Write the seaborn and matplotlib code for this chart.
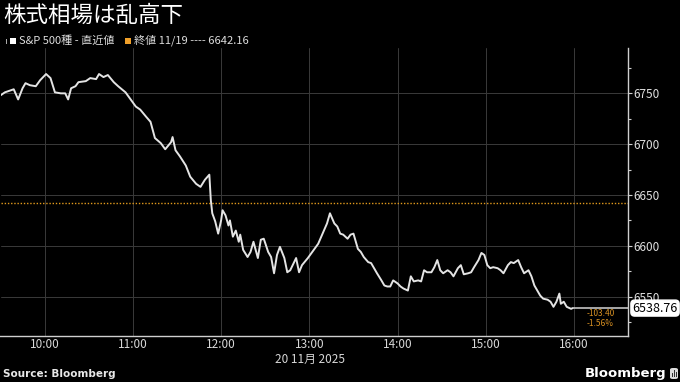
import matplotlib
matplotlib.use("Agg")
import matplotlib.pyplot as plt
import matplotlib.transforms as mtransforms
from matplotlib.patches import Rectangle, FancyBboxPatch
from matplotlib.ticker import MultipleLocator
import seaborn as sns
import pandas as pd

# ---------------- data ----------------
title = "株式相場は乱高下"
series_label = "S&P 500種 - 直近値"
prev_close_label = "終値 11/19 ---- 6642.16"
prev_close = 6642.16
last_value = 6538.76
change_abs = "-103.40"
change_pct = "-1.56%"
date_label = "20 11月 2025"
source_label = "Source: Bloomberg"
brand_label = "Bloomberg"
trade_date = "2025-11-20"
y_ticks = [6550, 6600, 6650, 6700, 6750]
x_tick_times = ["10:00", "11:00", "12:00", "13:00", "14:00", "15:00", "16:00"]
x_minor_times = ["09:30", "10:30", "11:30", "12:30", "13:30", "14:30", "15:30", "16:30"]

times = [
    "09:30", "09:33", "09:39", "09:42", "09:45", "09:47", "09:50", "09:54", "09:57",
    "10:01", "10:04", "10:07", "10:11", "10:14", "10:16", "10:18", "10:21", "10:23",
    "10:28", "10:31", "10:35", "10:37", "10:40", "10:43", "10:47", "10:50", "10:55",
    "10:58", "11:02", "11:05", "11:09", "11:12", "11:15", "11:19", "11:22", "11:26",
    "11:27", "11:29", "11:32", "11:36", "11:39", "11:43", "11:46", "11:49", "11:52",
    "11:53", "11:54", "11:56", "11:58", "12:00", "12:01", "12:03", "12:05", "12:06",
    "12:08", "12:10", "12:12", "12:13", "12:15", "12:18", "12:20", "12:22", "12:25",
    "12:27", "12:29", "12:32", "12:34", "12:36", "12:38", "12:40", "12:43", "12:45",
    "12:47", "12:51", "12:53", "12:55", "12:59", "13:02", "13:06", "13:09", "13:12",
    "13:14", "13:17", "13:19", "13:21", "13:23", "13:26", "13:28", "13:30", "13:33",
    "13:35", "13:37", "13:40", "13:42", "13:44", "13:46", "13:49", "13:51", "13:53",
    "13:55", "13:57", "14:00", "14:02", "14:04", "14:07", "14:09", "14:11", "14:14",
    "14:16", "14:18", "14:20", "14:23", "14:25", "14:27", "14:29", "14:31", "14:34",
    "14:36", "14:38", "14:41", "14:43", "14:45", "14:48", "14:50", "14:52", "14:55",
    "14:57", "14:59", "15:01", "15:03", "15:05", "15:08", "15:10", "15:12", "15:15",
    "15:17", "15:19", "15:22", "15:24", "15:26", "15:29", "15:31", "15:33", "15:35",
    "15:37", "15:39", "15:42", "15:44", "15:46", "15:48", "15:50", "15:51", "15:53",
    "15:55", "15:58", "15:59",
]
prices = [
    6748, 6751, 6754, 6744, 6755, 6760, 6758, 6757, 6763,
    6769, 6765, 6751, 6750, 6750, 6744, 6755, 6757, 6761,
    6762, 6765, 6764, 6769, 6766, 6768, 6761, 6757, 6751,
    6745, 6737, 6734, 6727, 6722, 6706, 6701, 6695, 6702,
    6707, 6694, 6688, 6679, 6668, 6661, 6658, 6665, 6670,
    6645, 6632, 6624, 6612, 6625, 6635, 6630, 6620, 6625,
    6609, 6615, 6604, 6611, 6596, 6589, 6594, 6604, 6588,
    6606, 6607, 6594, 6589, 6573, 6591, 6599, 6588, 6574,
    6576, 6588, 6574, 6581, 6588, 6594, 6602, 6612, 6622,
    6632, 6622, 6619, 6612, 6611, 6607, 6611, 6612, 6597,
    6594, 6589, 6584, 6583, 6578, 6573, 6566, 6561, 6560,
    6560, 6566, 6563, 6560, 6558, 6556, 6570, 6565, 6566,
    6565, 6576, 6574, 6574, 6579, 6586, 6576, 6573, 6576,
    6574, 6570, 6578, 6581, 6572, 6573, 6574, 6579, 6586,
    6593, 6591, 6581, 6578, 6579, 6578, 6576, 6573, 6581,
    6584, 6583, 6586, 6579, 6573, 6576, 6570, 6561, 6556,
    6551, 6548, 6547, 6545, 6540, 6545, 6553, 6543, 6545,
    6540, 6538, 6538.76,
]

# ---------------- style ----------------
sns.set_theme(style="dark", rc={
    "axes.facecolor": "black", "figure.facecolor": "black",
    "axes.edgecolor": "#cfcfcf", "text.color": "#e0e0e0",
    "xtick.color": "#cfcfcf", "ytick.color": "#cfcfcf",
})
plt.rcParams["font.family"] = ["Noto Sans CJK JP", "DejaVu Sans"]

W, H = 680, 382
fig = plt.figure(figsize=(W / 100, H / 100), dpi=100, facecolor="black")
ax = fig.add_axes([0.5 / W, 1 - 336 / H, 627.5 / W, 288 / H])
ax.set_facecolor("black")

def ts(t):
    return pd.Timestamp(f"{trade_date} {t}")

df = pd.DataFrame({"time": [ts(t) for t in times], "price": prices})

x_left = ts("09:30")
x_right = ts("16:36:40")

ax.axhline(prev_close, color="#e29a1c", lw=1.0, ls=(0, (1, 1.3)), zorder=2)
sns.lineplot(data=df, x="time", y="price", ax=ax, color="#e4e4e4", lw=1.4,
             estimator=None, zorder=3)
ax.hlines(last_value, df["time"].iloc[-1], x_right, color="#d5d5d5", lw=1.1, zorder=3)

ax.set_xlim(x_left, x_right)
ax.set_ylim(6511.3, 6794.6)

ax.set_xticks([ts(t) for t in x_tick_times])
ax.set_xticklabels(x_tick_times)
ax.set_xticks([ts(t) for t in x_minor_times], minor=True)
ax.yaxis.tick_right()
ax.set_yticks(y_ticks)
ax.set_yticklabels([str(v) for v in y_ticks])
ax.yaxis.set_minor_locator(MultipleLocator(25))
ax.tick_params(axis="x", which="major", length=2.5, width=0.8, pad=-1,
               labelsize=8.5, labelcolor="#d8d8d8", colors="#bdbdbd")
ax.tick_params(axis="x", which="minor", length=2, width=0.8, colors="#bdbdbd")
ax.tick_params(axis="y", which="major", length=3, width=0.8, pad=1,
               labelsize=8.5, labelcolor="#e0e0e0", colors="#cfcfcf",
               right=True, left=False)
ax.tick_params(axis="y", which="minor", length=2, width=0.8, colors="#cfcfcf",
               right=True, left=False)
ax.set_xlabel("")
ax.set_ylabel("")

ax.grid(True, which="major", color="#3a3a3a", lw=0.7)
for side in ["top", "left"]:
    ax.spines[side].set_visible(False)
for side in ["right", "bottom"]:
    ax.spines[side].set_visible(True)
    ax.spines[side].set_color("#cfcfcf")
    ax.spines[side].set_linewidth(1.0)

# last value box
trans = mtransforms.blended_transform_factory(ax.transAxes, ax.transData)
ax.text(1.007, last_value, f"{last_value:.2f}", transform=trans, ha="left", va="center",
        fontsize=9, color="black", clip_on=False,
        bbox=dict(boxstyle="round,pad=0.12,rounding_size=0.3", fc="white", ec="white"))

# change annotation
fig.text(587 / W, 1 - 313 / H, change_abs, fontsize=6, color="#d68f22", ha="left", va="center")
fig.text(587 / W, 1 - 324 / H, change_pct, fontsize=6, color="#d68f22", ha="left", va="center")

# date label
fig.text(310 / W, 1 - 359 / H, date_label, fontsize=8.5, color="#d8d8d8", ha="center", va="center")

# title and legend
fig.text(3 / W, 1 - 15 / H, title, fontsize=16.2, color="white", ha="left", va="center")
fig.patches.append(Rectangle((10 / W, 1 - 43.5 / H), 6 / W, 6 / H, transform=fig.transFigure,
                             facecolor="white", edgecolor="none"))
fig.patches.append(Rectangle((5.5 / W, 1 - 44 / H), 1 / W, 5 / H, transform=fig.transFigure,
                             facecolor="#aaaaaa", edgecolor="none"))
fig.text(19 / W, 1 - 40.5 / H, series_label, fontsize=8, color="#dddddd", ha="left", va="center")
fig.patches.append(Rectangle((125 / W, 1 - 43.5 / H), 6 / W, 6 / H, transform=fig.transFigure,
                             facecolor="#f0a02a", edgecolor="none"))
fig.text(134 / W, 1 - 40.5 / H, prev_close_label, fontsize=8, color="#dddddd", ha="left", va="center")

# footer
fig.text(3 / W, 1 - 374 / H, source_label, fontsize=7.5, fontweight="bold", color="#e8e8e8",
         ha="left", va="center", family=["DejaVu Sans"])
fig.text(666 / W, 1 - 373 / H, brand_label, fontsize=9.5, fontweight="bold", color="white",
         ha="right", va="center", family=["DejaVu Sans"])
fig.patches.append(FancyBboxPatch((670 / W, 1 - 379 / H), 8 / W, 11 / H,
                                  boxstyle="round,pad=0,rounding_size=0.004",
                                  transform=fig.transFigure, facecolor="#dcdcdc", edgecolor="none"))
for i, hgt in enumerate([4, 7, 5]):
    fig.patches.append(Rectangle(((671.5 + i * 2) / W, 1 - 377 / H), 1.2 / W, hgt / H,
                                 transform=fig.transFigure, facecolor="#333333", edgecolor="none"))

fig.savefig("out.png", dpi=100, facecolor="black")
